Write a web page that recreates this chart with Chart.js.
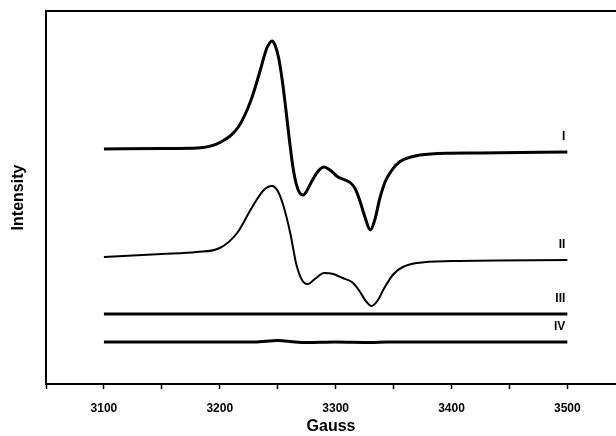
<!DOCTYPE html>
<html>
<head>
<meta charset="utf-8">
<script src="https://cdn.jsdelivr.net/npm/chart.js@4/dist/chart.umd.min.js"></script>
<style>
    html, body { margin: 0; padding: 0; background: #fff; }
    #wrap { width: 616px; height: 436px; }
</style>
</head>
<body>
<div id="wrap"><canvas id="chart-epr"></canvas></div>
<script>
// EPR spectra, field in Gauss, intensity in arbitrary units (offset per trace)
const gaussI = [3100, 3150, 3181, 3201, 3216, 3227, 3235, 3240, 3243, 3245, 3248, 3251, 3254, 3257, 3260, 3263, 3266, 3269, 3272, 3275, 3280, 3285, 3290, 3295, 3302, 3308, 3313, 3317, 3321, 3325, 3330, 3334, 3338, 3343, 3348, 3355, 3365, 3382, 3425, 3500];
const intensityI = [235, 235.5, 236, 242, 257, 284, 314, 334, 341, 343, 338, 325, 303, 275, 245, 218, 200, 191, 189, 193, 204, 213, 217, 214, 207, 204, 201, 195, 183, 168, 154, 165, 185, 203, 213, 222, 227, 230, 231, 232];

const gaussII = [3100, 3150, 3180, 3200, 3215, 3228, 3238, 3245, 3250, 3255, 3261, 3266, 3271, 3276, 3282, 3290, 3298, 3306, 3314, 3320, 3326, 3331, 3336, 3342, 3350, 3358, 3370, 3400, 3500];
const intensityII = [127, 130, 132, 136, 151, 177, 194, 198, 193, 178, 150, 120, 104, 100, 105, 111, 110, 106, 102, 94, 83, 78, 83, 96, 110, 117, 121, 123, 124];

const gaussIII = [3100, 3300, 3500];
const intensityIII = [70, 70, 70];

const gaussIV = [3100, 3230, 3250, 3265, 3275, 3300, 3330, 3345, 3500];
const intensityIV = [42, 42, 43.5, 42, 41.5, 42, 41.5, 42, 42];

const seriesNames = ['I', 'II', 'III', 'IV'];
const xTickValues = [3050, 3100, 3150, 3200, 3250, 3300, 3350, 3400, 3450, 3500];

const toPoints = (xs, ys) => xs.map((x, i) => ({ x: x, y: ys[i] }));

// top frame line + the roman numeral next to each trace
const framePlugin = {
    id: 'frame',
    afterDraw(chart) {
        const ctx = chart.ctx;
        const area = chart.chartArea;
        ctx.save();
        ctx.strokeStyle = '#000';
        ctx.lineWidth = 2;
        ctx.beginPath();
        ctx.moveTo(area.left - 1, area.top);
        ctx.lineTo(area.right + 2, area.top);
        ctx.stroke();

        ctx.fillStyle = '#000';
        ctx.font = 'bold 12px Arial, "Liberation Sans", sans-serif';
        ctx.textAlign = 'right';
        ctx.textBaseline = 'alphabetic';
        chart.data.datasets.forEach((ds, i) => {
            const last = ds.data[ds.data.length - 1];
            const px = chart.scales.x.getPixelForValue(last.x);
            const py = chart.scales.y.getPixelForValue(last.y);
            ctx.fillText(seriesNames[i], px - 2, py - 12);
        });
        ctx.restore();
    }
};

new Chart(document.getElementById('chart-epr'), {
    type: 'line',
    data: {
        datasets: [
            { label: 'I', data: toPoints(gaussI, intensityI), borderWidth: 3, cubicInterpolationMode: 'monotone' },
            { label: 'II', data: toPoints(gaussII, intensityII), borderWidth: 2, cubicInterpolationMode: 'monotone' },
            { label: 'III', data: toPoints(gaussIII, intensityIII), borderWidth: 3 },
            { label: 'IV', data: toPoints(gaussIV, intensityIV), borderWidth: 3, cubicInterpolationMode: 'monotone' }
        ]
    },
    options: {
        responsive: true,
        maintainAspectRatio: false,
        animation: false,
        layout: { padding: { top: 11, right: 0, left: 0, bottom: 0 } },
        plugins: { legend: { display: false }, tooltip: { enabled: false } },
        elements: {
            line: { borderColor: '#000', fill: false, borderCapStyle: 'butt', borderJoinStyle: 'round' },
            point: { radius: 0 }
        },
        scales: {
            x: {
                type: 'linear',
                min: 3050,
                max: 3542,
                afterBuildTicks: (scale) => { scale.ticks = xTickValues.map(v => ({ value: v })); },
                afterFit: (scale) => { scale.height = 52; },
                border: { display: true, color: '#000', width: 2 },
                grid: { drawOnChartArea: false, drawTicks: true, tickLength: 5, tickColor: '#000', tickWidth: 1.5 },
                ticks: {
                    color: '#000',
                    padding: 12,
                    maxRotation: 0,
                    autoSkip: false,
                    font: { family: 'Arial, "Liberation Sans", sans-serif', size: 12, weight: 'bold' },
                    callback: (v) => (v % 100 === 0 ? String(v) : '')
                },
                title: {
                    display: true,
                    text: 'Gauss',
                    color: '#000',
                    padding: { top: 0, bottom: 0 },
                    font: { family: 'Arial, "Liberation Sans", sans-serif', size: 16, weight: 'bold' }
                }
            },
            y: {
                type: 'linear',
                min: 0,
                max: 373,
                afterFit: (scale) => { scale.width = 46; },
                border: { display: true, color: '#000', width: 2 },
                grid: { display: false },
                ticks: { display: false },
                title: {
                    display: true,
                    text: 'Intensity',
                    color: '#000',
                    padding: { top: 9, bottom: 0 },
                    font: { family: 'Arial, "Liberation Sans", sans-serif', size: 16, weight: 'bold' }
                }
            }
        }
    },
    plugins: [framePlugin]
});
</script>
</body>
</html>
